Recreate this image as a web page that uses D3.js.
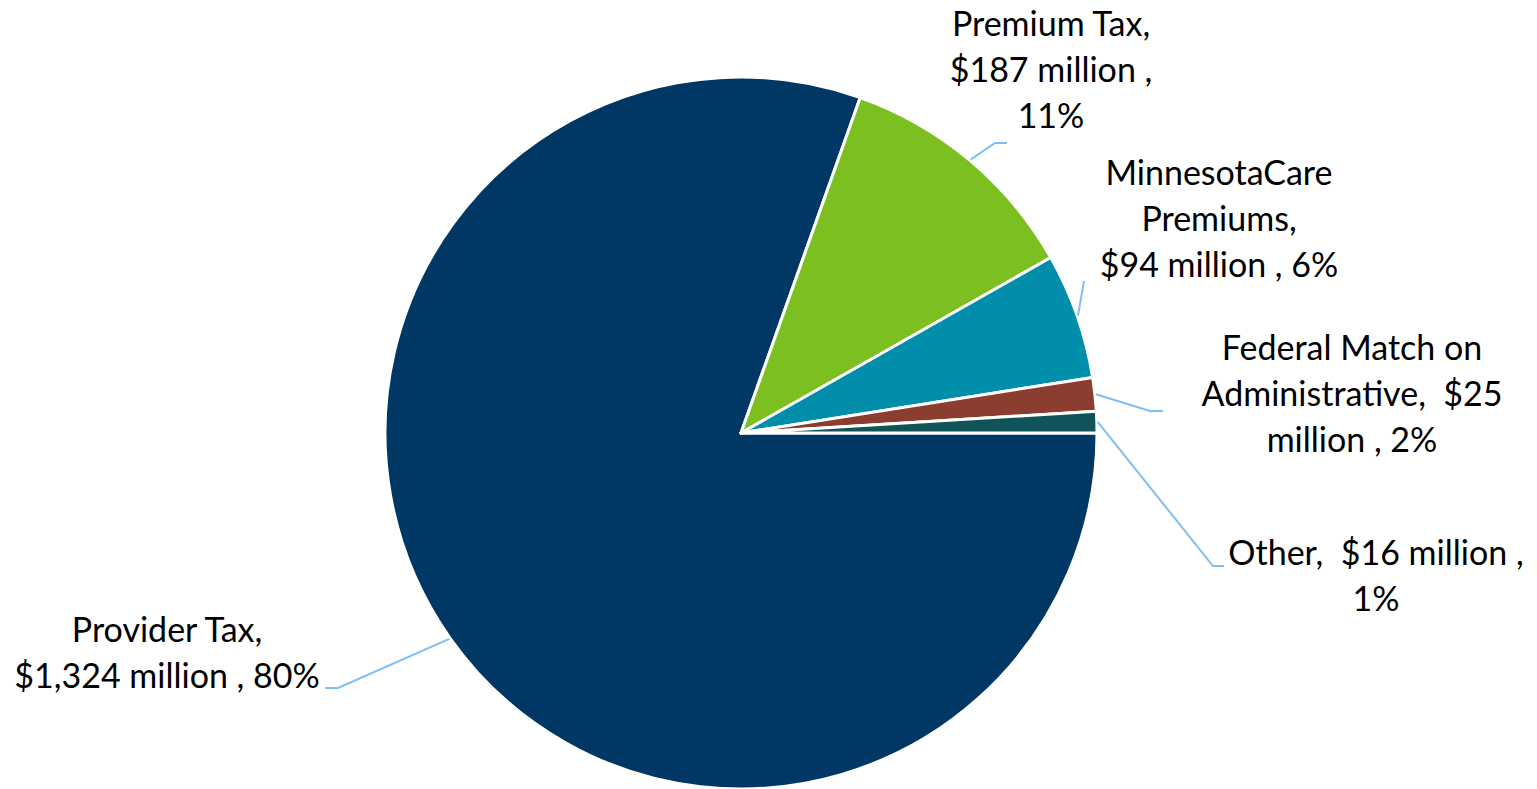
<!DOCTYPE html>
<html>
<head>
<meta charset="utf-8">
<script src="https://cdn.jsdelivr.net/npm/d3@7"></script>
<style>
  body { margin: 0; background: #fff; }
  svg { display: block; }
  .lbl { font-family: Lato, "Open Sans", sans-serif; font-size: 34px; fill: #000; }
</style>
</head>
<body>
<svg id="chart"></svg>
<script>
// données
const categories = ["Provider Tax", "Premium Tax", "MinnesotaCare Premiums", "Federal Match on Administrative", "Other"];
const values = [1324, 187, 94, 25, 16];
const percents = [80, 11, 6, 2, 1];
const labelLines = [
  ["Provider Tax,", "$1,324 million , 80%"],
  ["Premium Tax,", "$187 million ,", "11%"],
  ["MinnesotaCare", "Premiums,", "$94 million , 6%"],
  ["Federal Match on", "Administrative,  $25", "million , 2%"],
  ["Other,  $16 million ,", "1%"]
];
const colors = ["#003764", "#7BBF21", "#008EAA", "#8B3E2F", "#10545A"];

// mise en page des étiquettes : centre du texte, 1re ligne de base, coude et bout du trait
const labelLayout = [
  { x: 167, y: 642, elbow: [338, 688], end: [325, 688] },
  { x: 1051, y: 36, elbow: [995, 143], end: [1007, 143] },
  { x: 1219, y: 185, elbow: [1084, 281], end: [1084, 281] },
  { x: 1352, y: 360, elbow: [1150, 411], end: [1163, 411] },
  { x: 1376, y: 565, elbow: [1213, 566], end: [1224, 566] }
];

const width = 1537, height = 789;
const cx = 741, cy = 433, r = 356;
const lineH = 46;

const svg = d3.select("#chart")
  .attr("width", width)
  .attr("height", height);

const pie = d3.pie()
  .value(d => d)
  .sort(null)
  .startAngle(Math.PI / 2)
  .endAngle(Math.PI / 2 + 2 * Math.PI);

const arcs = pie(values);

const arc = d3.arc().innerRadius(0).outerRadius(r);

const g = svg.append("g")
  .attr("transform", "translate(" + cx + "," + cy + ")");

g.selectAll("path.slice")
  .data(arcs)
  .enter()
  .append("path")
  .attr("class", "slice")
  .attr("d", arc)
  .attr("fill", (d, i) => colors[i])
  .attr("stroke", "#fff")
  .attr("stroke-width", 3)
  .attr("stroke-linejoin", "round");

// traits de rappel
arcs.forEach((d, i) => {
  const a = (d.startAngle + d.endAngle) / 2;
  const sx = cx + (r + 1) * Math.sin(a);
  const sy = cy - (r + 1) * Math.cos(a);
  const L = labelLayout[i];
  svg.append("polyline")
    .attr("points", [[sx, sy], L.elbow, L.end].map(p => p.join(",")).join(" "))
    .attr("fill", "none")
    .attr("stroke", "#7DBFF5")
    .attr("stroke-width", 2);
});

// étiquettes
labelLines.forEach((lines, i) => {
  const L = labelLayout[i];
  const t = svg.append("text")
    .attr("class", "lbl")
    .attr("text-anchor", "middle")
    .attr("x", L.x)
    .attr("y", L.y);
  lines.forEach((ln, j) => {
    t.append("tspan")
      .attr("x", L.x)
      .attr("y", L.y + j * lineH)
      .attr("xml:space", "preserve")
      .text(ln);
  });
});
</script>
</body>
</html>
